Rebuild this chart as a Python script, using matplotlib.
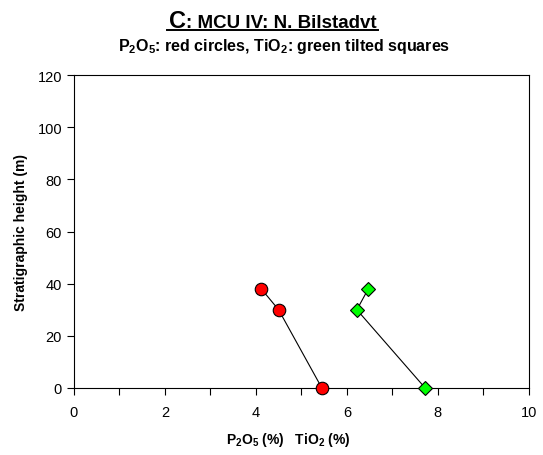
import matplotlib
matplotlib.use("Agg")
import matplotlib.pyplot as plt

plt.rcParams['font.family'] = ['Liberation Sans', 'DejaVu Sans']
plt.rcParams['mathtext.fontset'] = 'custom'
plt.rcParams['mathtext.rm'] = 'Liberation Sans'
plt.rcParams['mathtext.bf'] = 'Liberation Sans:bold'

height = [0, 30, 38]
p2o5 = [5.45, 4.50, 4.12]
tio2 = [7.72, 6.22, 6.47]

fig = plt.figure(figsize=(5.43, 4.56), dpi=100)
ax = fig.add_axes([0.136, 0.147, 0.838, 0.686])

ax.plot(p2o5, height, color='black', lw=0.8, marker='o', ms=9,
        mfc='#ff0000', mec='black', mew=0.8, zorder=3, clip_on=False)
ax.plot(tio2, height, color='black', lw=0.8, marker='D', ms=7.5,
        mfc='#00ff00', mec='black', mew=0.8, zorder=3, clip_on=False)

ax.set_xlim(0, 10)
ax.set_ylim(0, 120)
ax.set_xticks([0, 2, 4, 6, 8, 10])
ax.set_xticks([1, 3, 5, 7, 9], minor=True)
ax.set_yticks([0, 20, 40, 60, 80, 100, 120])
ax.tick_params(axis='both', direction='out', length=5, width=0.8, labelsize=10.5)
ax.tick_params(axis='x', which='minor', direction='out', length=5, width=0.8)
ax.tick_params(axis='x', pad=7)
for s in ax.spines.values():
    s.set_linewidth(0.8)

ax.set_ylabel('Stratigraphic height (m)', fontsize=10, fontweight='bold', labelpad=7)
ax.set_xlabel(r'$\mathbf{P_2 O_5}$ (%)   $\mathbf{TiO_2}$ (%)', fontsize=10,
              fontweight='bold')
ax.xaxis.set_label_coords(0.471, -0.134)

cx = 186 / 543
fig.text(cx, 0.939, 'C', fontsize=17, fontweight='bold', ha='right', va='baseline')
fig.text(cx, 0.939, ': MCU IV: N. Bilstadvt', fontsize=13.5, fontweight='bold',
         ha='left', va='baseline')
fig.add_artist(plt.Line2D([167 / 543, 378 / 543], [0.931, 0.931], color='black', lw=1.4))
fig.text(0.524, 0.888, r'$\mathbf{P_2O_5}$: red circles, $\mathbf{TiO_2}$: green tilted squares',
         fontsize=11.5, fontweight='bold', ha='center', va='baseline')

fig.savefig('out.png', dpi=100)
